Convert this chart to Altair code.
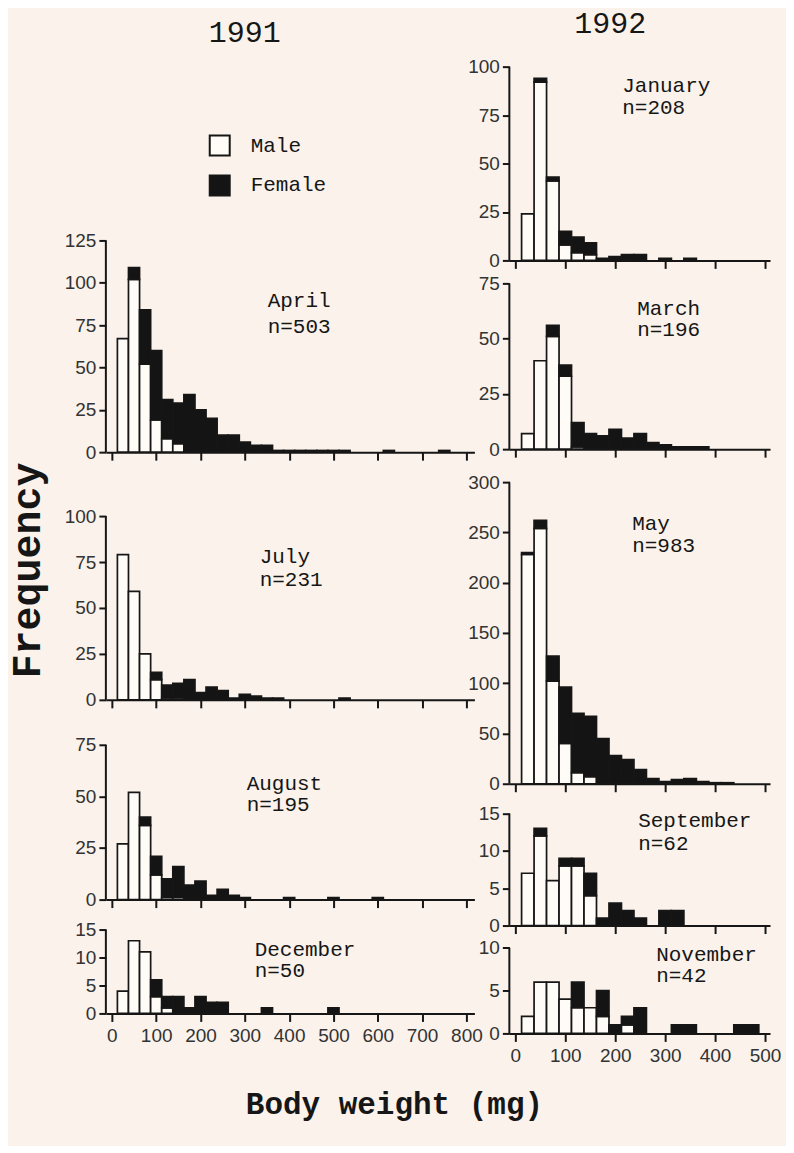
import altair as alt
import pandas as pd
from itertools import zip_longest

MONO = "Liberation Mono"
SANS = "Liberation Sans"
BG = "#faf2eb"
INK = "#161616"

# ---------------- data (bin centres, mg; counts per bin) ----------------
LEFT_BINS = [25, 50, 75, 100, 125, 150, 175, 200, 225, 250, 275, 300, 325, 350, 375,
             400, 425, 450, 475, 500, 525, 550, 575, 600, 625, 650, 675, 700, 725, 750, 775]
RIGHT_BINS = [25, 50, 75, 100, 125, 150, 175, 200, 225, 250, 275, 300, 325, 350, 375,
              400, 425, 450, 475]
LEFT_TICKS = [0, 100, 200, 300, 400, 500, 600, 700, 800]
RIGHT_TICKS = [0, 100, 200, 300, 400, 500]

april_male = [67, 102, 52, 19, 8, 5]
april_female = [0, 7, 32, 41, 23, 24, 34, 25, 20, 10, 10, 6, 4, 4, 1, 1, 1, 1, 1, 1, 1,
                0, 0, 0, 1, 0, 0, 0, 0, 1]
july_male = [79, 59, 25, 11, 1, 1]
july_female = [0, 0, 0, 4, 7, 8, 11, 4, 7, 5, 1, 3, 2, 1, 1, 0, 0, 0, 0, 0, 1]
august_male = [27, 52, 36, 12, 1, 1]
august_female = [0, 0, 4, 9, 9, 15, 7, 9, 2, 5, 2, 1, 0, 0, 0, 1, 0, 0, 0, 1, 0, 0, 0, 1]
december_male = [4, 13, 11, 3, 1]
december_female = [0, 0, 0, 3, 2, 3, 1, 3, 2, 2, 0, 0, 0, 1, 0, 0, 0, 0, 0, 1]

january_male = [24, 92, 41, 8, 4, 3]
january_female = [0, 2, 2, 7, 8, 6, 1, 2, 3, 3, 0, 1, 0, 1]
march_male = [7, 40, 51, 33, 1]
march_female = [0, 0, 5, 5, 11, 7, 6, 9, 5, 7, 3, 2, 1, 1, 1]
may_male = [228, 254, 102, 40, 11, 7]
may_female = [2, 8, 25, 56, 59, 60, 45, 28, 24, 14, 5, 2, 4, 5, 2, 1, 1]
september_male = [7, 12, 6, 8, 8, 4]
september_female = [0, 1, 0, 1, 1, 3, 1, 3, 2, 1, 0, 2, 2]
november_male = [2, 6, 6, 4, 3, 3, 2, 0, 1]
november_female = [0, 0, 0, 0, 3, 0, 3, 1, 1, 3, 0, 0, 1, 1, 0, 0, 0, 1, 1]

SEX = ["Male", "Female"]
SEX_FILL = ["#fffcf7", "#141414"]
HALF_BIN = 12.5


def bars_df(bins, male, female):
    rows = []
    for b, m, f in zip_longest(bins, male, female, fillvalue=0):
        if m > 0:
            rows.append(dict(lo=b - HALF_BIN, hi=b + HALF_BIN, y0=0, y1=m, sex="Male"))
        if f > 0:
            rows.append(dict(lo=b - HALF_BIN, hi=b + HALF_BIN, y0=m, y1=m + f, sex="Female"))
    return pd.DataFrame(rows)


LEFT = dict(bins=LEFT_BINS, width=369, xdom=[-13.5, 818], xticks=LEFT_TICKS)
RIGHT = dict(bins=RIGHT_BINS, width=261, xdom=[-12, 510], xticks=RIGHT_TICKS)


def panel(spec, col):
    width, xdom = col["width"], col["xdom"]
    h, ymax = spec["height"], spec["ymax"]
    df = bars_df(col["bins"], spec["male"], spec["female"])
    xs = alt.Scale(domain=xdom, nice=False, zero=False)
    ys = alt.Scale(domain=[0, ymax], nice=False, zero=False)
    xax = alt.Axis(values=col["xticks"], labels=spec.get("xlabels", False), title=None,
                   grid=False, labelFlush=False, labelOverlap=False, format="d",
                   tickSize=8, labelPadding=5)
    yopts = dict(values=spec["yticks"], domain=False, grid=False, labelFlush=False,
                 labelOverlap=False, format="d")
    if spec.get("ytitle"):
        yopts.update(title=spec["ytitle"], titleX=-78, titleY=spec["ytitle_y"],
                     titleAngle=270, titleAlign="center", titleBaseline="middle",
                     titleFont=MONO, titleFontSize=40, titleFontWeight="bold",
                     titleColor=INK)
    else:
        yopts.update(title=None)
    yax = alt.Axis(**yopts)
    legend = spec.get("legend", None)
    bars = alt.Chart(df).mark_rect(stroke=INK, strokeWidth=1.7).encode(
        x=alt.X("lo:Q", scale=xs, axis=xax),
        x2="hi:Q",
        y=alt.Y("y0:Q", scale=ys, axis=yax),
        y2="y1:Q",
        fill=alt.Fill("sex:N", scale=alt.Scale(domain=SEX, range=SEX_FILL), legend=legend),
    )
    spine = alt.Chart(pd.DataFrame({"top": [spec["yticks"][-1]], "base": [0]})).mark_rule(
        color=INK, strokeWidth=2).encode(
        x=alt.value(0),
        y=alt.Y("top:Q", scale=ys, axis=yax),
        y2="base:Q",
    )
    tx, ty1, ty2 = spec["label_px"]
    xd = xdom[0] + tx * (xdom[1] - xdom[0]) / width
    lab = alt.Chart(pd.DataFrame({
        "t": spec["label"],
        "x": [xd, xd],
        "y": [ymax * (1 - ty1 / h), ymax * (1 - ty2 / h)],
    })).mark_text(align="left", baseline="middle", font=MONO, fontSize=21, color=INK).encode(
        x=alt.X("x:Q", scale=xs, axis=xax),
        y=alt.Y("y:Q", scale=ys, axis=yax),
        text="t:N",
    )
    return alt.layer(bars, spine, lab).properties(width=width, height=h)


def header(text, cx, cy, width, height):
    return alt.Chart(pd.DataFrame({"t": [text]})).mark_text(
        font=MONO, fontSize=30, align="center", baseline="middle", color=INK).encode(
        x=alt.value(cx), y=alt.value(cy), text="t:N").properties(width=width, height=height)


legend_spec = alt.Legend(orient="none", legendX=103, legendY=-106, title=None,
                         symbolType="square", symbolSize=400, symbolStrokeColor=INK,
                         symbolStrokeWidth=2, labelFont=MONO, labelFontSize=21,
                         labelColor=INK, rowPadding=12, labelOffset=20, padding=0)

left_specs = [
    dict(male=april_male, female=april_female, height=212, ymax=125,
         yticks=[0, 25, 50, 75, 100, 125], label=["April", "n=503"],
         label_px=(162, 61, 87), legend=legend_spec),
    dict(male=july_male, female=july_female, height=248, ymax=134.8,
         yticks=[0, 25, 50, 75, 100], label=["July", "n=231"], label_px=(154, 105, 128),
         ytitle="Frequency", ytitle_y=118),
    dict(male=august_male, female=august_female, height=200, ymax=96.8,
         yticks=[0, 25, 50, 75], label=["August", "n=195"], label_px=(141, 84, 105)),
    dict(male=december_male, female=december_female, height=114, ymax=20.36,
         yticks=[0, 5, 10, 15], label=["December", "n=50"], label_px=(149, 50, 72),
         xlabels=True),
]
right_specs = [
    dict(male=january_male, female=january_female, height=194, ymax=100,
         yticks=[0, 25, 50, 75, 100], label=["January", "n=208"], label_px=(113, 19, 41)),
    dict(male=march_male, female=march_female, height=189, ymax=85.4,
         yticks=[0, 25, 50, 75], label=["March", "n=196"], label_px=(128, 49, 70)),
    dict(male=may_male, female=may_female, height=335, ymax=332.8,
         yticks=[0, 50, 100, 150, 200, 250, 300], label=["May", "n=983"],
         label_px=(123, 75, 97)),
    dict(male=september_male, female=september_female, height=142, ymax=18.98,
         yticks=[0, 5, 10, 15], label=["September", "n=62"], label_px=(129, 37, 60)),
    dict(male=november_male, female=november_female, height=108, ymax=12.6,
         yticks=[0, 5, 10], label=["November", "n=42"], label_px=(147, 29, 51),
         xlabels=True),
]

left_col = alt.vconcat(
    header("1991", 139, 24, LEFT["width"], 232),
    *[panel(s, LEFT) for s in left_specs],
    spacing=0, bounds="flush",
).resolve_scale(fill="independent", x="independent", y="independent")

right_col = alt.vconcat(
    header("1992", 101, 15, RIGHT["width"], 58),
    *[panel(s, RIGHT) for s in right_specs],
    spacing=0, bounds="flush",
).resolve_scale(fill="independent", x="independent", y="independent")

chart = alt.hconcat(left_col, right_col, spacing=-15).resolve_scale(
    fill="independent", x="independent", y="independent"
).properties(
    title=alt.TitleParams("Body weight (mg)", orient="bottom", anchor="middle",
                          font=MONO, fontSize=31, fontWeight="bold", color=INK,
                          offset=25, frame="bounds"),
    background=BG,
    padding={"left": 0, "top": 0, "right": 5, "bottom": 25},
).configure_view(stroke=None).configure_axis(
    domainColor=INK, domainWidth=2, tickColor=INK, tickWidth=2, tickSize=7,
    labelFont=SANS, labelFontSize=19, labelColor="#333333", labelPadding=3,
)

chart.save("out.html", embed_options={"renderer": "svg", "actions": False})
